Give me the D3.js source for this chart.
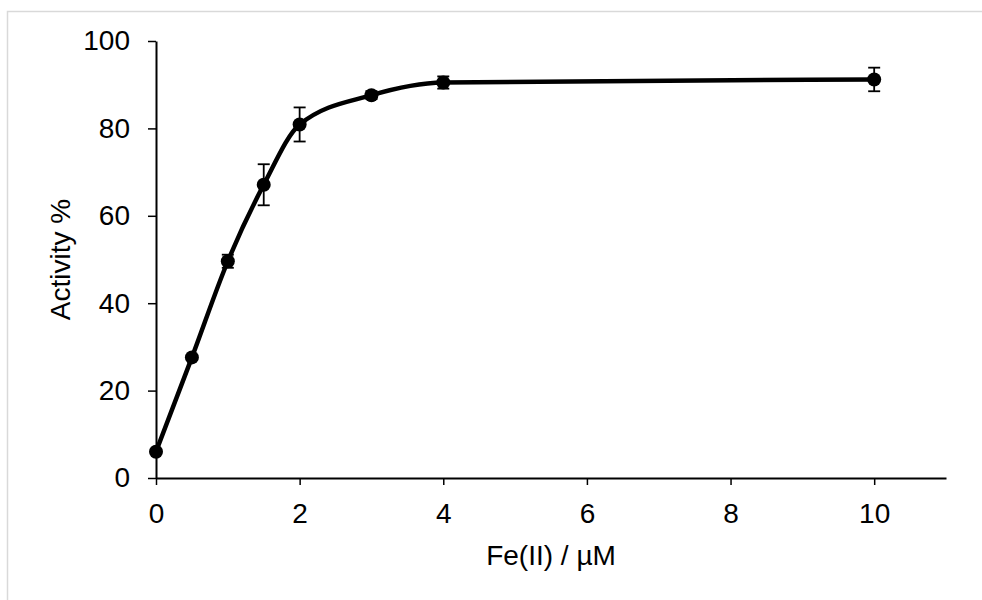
<!DOCTYPE html>
<html>
<head>
<meta charset="utf-8">
<script src="https://cdn.jsdelivr.net/npm/d3@7"></script>
<style>
  body { margin: 0; background: #fff; }
  svg { display: block; font-family: "Liberation Sans", Arial, sans-serif; }
</style>
</head>
<body>
<div id="chart"></div>
<script>
const width = 982;
const height = 600;

// Fe(II) concentration (µM), activity (%) and error (±)
const conc = [0, 0.5, 1, 1.5, 2, 3, 4, 10];
const activity = [6, 27.6, 49.6, 67.1, 80.9, 87.6, 90.5, 91.2];
const errors = [0.4, 0.5, 1.5, 4.7, 3.9, 0.9, 1.4, 2.7];
const xTicks = [0, 2, 4, 6, 8, 10];
const yTicks = [0, 20, 40, 60, 80, 100];

const margin = { top: 41, right: 36, bottom: 122, left: 156 };
const fontSize = "28px";

const svg = d3.select("#chart")
    .append("svg")
    .attr("width", width)
    .attr("height", height);

// light frame round the chart area
svg.append("rect")
    .attr("x", 7.5)
    .attr("y", 11.5)
    .attr("width", width)
    .attr("height", height)
    .attr("fill", "none")
    .attr("stroke", "#d9d9d9")
    .attr("stroke-width", 1.5);

const x = d3.scaleLinear()
    .domain([0, 11])
    .range([margin.left, width - margin.right]);

const y = d3.scaleLinear()
    .domain([0, 100])
    .range([height - margin.bottom, margin.top]);

const data = conc.map((c, i) => ({ x: c, y: activity[i], e: errors[i] }));

// axes
const xAxis = svg.append("g")
    .attr("transform", `translate(0,${y(0)})`)
    .call(d3.axisBottom(x).tickValues(xTicks).tickSize(7).tickSizeOuter(0));

const yAxis = svg.append("g")
    .attr("transform", `translate(${x(0)},0)`)
    .call(d3.axisLeft(y).tickValues(yTicks).tickSize(8).tickSizeOuter(0));

[xAxis, yAxis].forEach(g => {
    g.attr("font-size", null).attr("font-family", null);
    g.select(".domain").attr("stroke", "#000").attr("stroke-width", 2);
    g.selectAll(".tick line").attr("stroke", "#000").attr("stroke-width", 1.5);
    g.selectAll(".tick text")
        .attr("fill", "#000")
        .style("font-size", fontSize);
});
xAxis.selectAll(".tick text").attr("y", 45).attr("dy", 0);
yAxis.selectAll(".tick text").attr("x", -26);

// axis titles
svg.append("text")
    .attr("x", (x(0) + x(11)) / 2)
    .attr("y", 565)
    .attr("text-anchor", "middle")
    .style("font-size", fontSize)
    .text("Fe(II) / µM");

svg.append("text")
    .attr("transform", `translate(70,${(y(0) + y(100)) / 2}) rotate(-90)`)
    .attr("text-anchor", "middle")
    .style("font-size", fontSize)
    .text("Activity %");

// smoothed line
const line = d3.line()
    .x(d => x(d.x))
    .y(d => y(d.y))
    .curve(d3.curveMonotoneX);

svg.append("path")
    .datum(data)
    .attr("d", line)
    .attr("fill", "none")
    .attr("stroke", "#000")
    .attr("stroke-width", 4.5);

// error bars
const bars = svg.append("g").attr("stroke", "#000").attr("stroke-width", 1.8);
data.forEach(d => {
    const cx = x(d.x);
    bars.append("line")
        .attr("x1", cx).attr("x2", cx)
        .attr("y1", y(d.y + d.e)).attr("y2", y(d.y - d.e));
    [d.y + d.e, d.y - d.e].forEach(v => {
        bars.append("line")
            .attr("x1", cx - 6).attr("x2", cx + 6)
            .attr("y1", y(v)).attr("y2", y(v));
    });
});

// markers
svg.append("g")
    .selectAll("circle")
    .data(data)
    .enter()
    .append("circle")
    .attr("cx", d => x(d.x))
    .attr("cy", d => y(d.y))
    .attr("r", 7)
    .attr("fill", "#000");
</script>
</body>
</html>
